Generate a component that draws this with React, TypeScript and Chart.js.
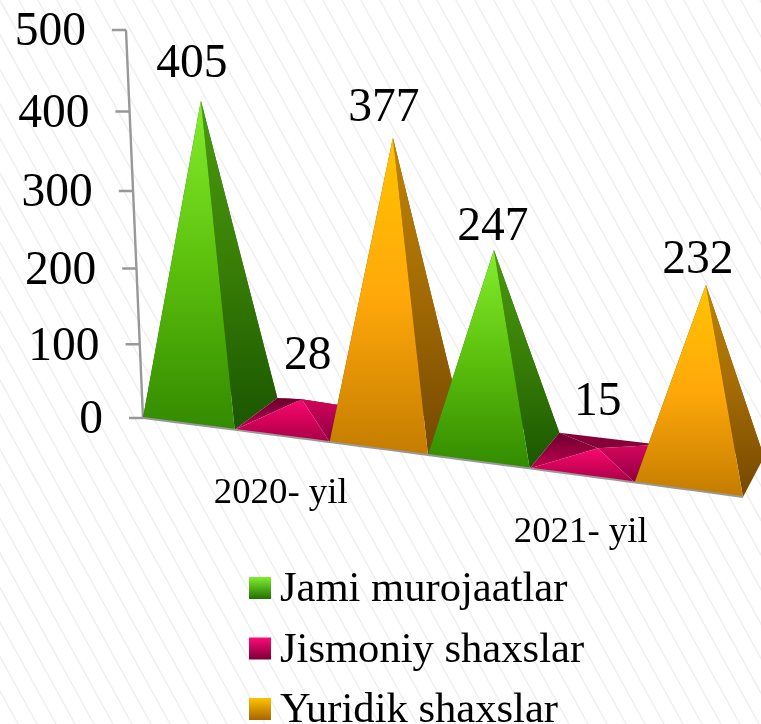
import React, { useEffect, useRef } from "react";
import { Chart, registerables } from "chart.js";

Chart.register(...registerables);

const categories = ["2020- yil", "2021- yil"];
const seriesNames = ["Jami murojaatlar", "Jismoniy shaxslar", "Yuridik shaxslar"];
const jamiMurojaatlar = [405, 247];
const jismoniyShaxslar = [28, 15];
const yuridikShaxslar = [377, 232];
const yTicks = [0, 100, 200, 300, 400, 500];

const SERIF = '"Liberation Serif", "Times New Roman", serif';
const W = 761;
const H = 724;

type Shade = { front: string[]; right: string[]; left: string[]; back: string; swatch: string[] };
const shades: Shade[] = [
  {
    front: ["#84ee2e", "#5cc00c", "#338a00"],
    right: ["#4a9a10", "#387e06", "#1a5600"],
    left: ["#1f6200", "#1f6200"],
    back: "#1f6200",
    swatch: ["#80f030", "#217000"],
  },
  {
    front: ["#f80a70", "#d40259", "#a60046"],
    right: ["#d00658", "#b00050", "#8a003c"],
    left: ["#6c002e", "#c00050"],
    back: "#86003a",
    swatch: ["#ff0a78", "#7a0034"],
  },
  {
    front: ["#ffc400", "#ffa80a", "#c47c00"],
    right: ["#be8406", "#a26a04", "#744800"],
    left: ["#7a4c00", "#7a4c00"],
    back: "#7a4c00",
    swatch: ["#ffc400", "#a86400"],
  },
];

// small per-label nudges for the value text, relative to the apex (series, category)
const labelNudge = [
  [[-10, -37], [-2, -24]],
  [[5, -44], [-1, -47]],
  [[-10, -30], [-9, -25]],
];

const pyramidPlugin = {
  id: "pyramids",
  beforeDraw(chart: any) {
    const ctx = chart.ctx as CanvasRenderingContext2D;
    ctx.save();
    ctx.fillStyle = "#ffffff";
    ctx.fillRect(0, 0, W, H);
    ctx.strokeStyle = "#efefef";
    ctx.lineWidth = 1.5;
    const slope = 0.55;
    ctx.beginPath();
    for (let x = -H * slope - 20; x < W + 20; x += 19) {
      ctx.moveTo(x, 0);
      ctx.lineTo(x + H * slope, H);
    }
    ctx.stroke();
    ctx.restore();
  },
  afterDatasetsDraw(chart: any) {
    const ctx = chart.ctx as CanvasRenderingContext2D;
    const area = chart.chartArea;
    const span = area.right - area.left;
    const height = area.bottom - area.top;
    const frontX = (px: number) => {
      const u = (px - area.left) / span;
      return px - 60 * u * (1 - u);
    };
    const frontY = (px: number) => {
      const u = (px - area.left) / span;
      return area.bottom + 79 * u - 10 * u * (1 - u);
    };
    const depth = (px: number) => {
      const u = (px - area.left) / span;
      return [47 - 26 * u, -(31 + 3 * u + 6 * u * u)];
    };

    // value axis, tilted
    const yScale = chart.scales.y;
    const axisPoint = (v: number) => {
      const py = yScale.getPixelForValue(v);
      const t = (area.bottom - py) / height;
      return [area.left - 17 * t, py + 24 * t * (1 - t)];
    };
    ctx.save();
    ctx.strokeStyle = "#989898";
    ctx.lineWidth = 2.4;
    ctx.beginPath();
    const [ax0, ay0] = axisPoint(yTicks[0]);
    const [ax1, ay1] = axisPoint(yTicks[yTicks.length - 1]);
    ctx.moveTo(ax0, ay0);
    ctx.lineTo(ax1, ay1);
    yScale.ticks.forEach((tick: any) => {
      const [x, y] = axisPoint(tick.value);
      ctx.moveTo(x, y);
      ctx.lineTo(x - 14, y);
    });
    ctx.stroke();
    ctx.fillStyle = "#000";
    ctx.font = `47.5px ${SERIF}`;
    ctx.textAlign = "right";
    ctx.textBaseline = "middle";
    yScale.ticks.forEach((tick: any) => {
      const [x, y] = axisPoint(tick.value);
      ctx.fillText(String(tick.value), x - 40, y + 3);
    });
    ctx.restore();

    // pyramids, left to right
    const items: any[] = [];
    chart.data.datasets.forEach((_: any, s: number) => {
      chart.getDatasetMeta(s).data.forEach((el: any, c: number) => {
        items.push({ el, s, c });
      });
    });
    items.sort((a, b) => a.el.x - b.el.x);

    const grad = (y0: number, y1: number, stops: string[]) => {
      const g = ctx.createLinearGradient(0, y0, 0, y1);
      stops.forEach((col, i) => g.addColorStop(i / (stops.length - 1), col));
      return g;
    };
    const tri = (a: number[], b: number[], c: number[], fill: any) => {
      ctx.beginPath();
      ctx.moveTo(a[0], a[1]);
      ctx.lineTo(b[0], b[1]);
      ctx.lineTo(c[0], c[1]);
      ctx.closePath();
      ctx.fillStyle = fill;
      ctx.fill();
    };

    const apexes: { apex: number[]; s: number; c: number }[] = [];
    items.forEach(({ el, s, c }) => {
      const pl = el.x - el.width / 2;
      const pr = el.x + el.width / 2;
      const u = (el.x - area.left) / span;
      const FL = [frontX(pl), frontY(pl)];
      const FR = [frontX(pr), frontY(pr)];
      const dl = depth(pl);
      const dr = depth(pr);
      const BL = [FL[0] + dl[0], FL[1] + dl[1]];
      const BR = [FR[0] + dr[0], FR[1] + dr[1]];
      const rise = (el.base - el.y) * (0.973 + 0.09 * u);
      const short = rise < 60;
      const apex = [
        frontX(el.x) + (short ? 22 - 8 * u : 12 + 6 * u),
        frontY(el.x) - 15 - rise,
      ];
      apexes.push({ apex, s, c });
      const sh = shades[s];
      tri(BL, BR, apex, sh.back);
      tri(FL, BL, apex, grad(BL[1], FL[1], sh.left));
      tri(FR, BR, apex, grad(apex[1], Math.max(FR[1], BR[1]), sh.right));
      tri(FL, FR, apex, grad(apex[1], FR[1], sh.front));
    });

    // floor edge
    ctx.save();
    ctx.strokeStyle = "#989898";
    ctx.lineWidth = 2;
    ctx.beginPath();
    for (let i = 0; i <= 40; i++) {
      const px = area.left + (span * i) / 40;
      if (i === 0) ctx.moveTo(frontX(px), frontY(px));
      else ctx.lineTo(frontX(px), frontY(px));
    }
    ctx.stroke();
    ctx.restore();

    // value labels
    ctx.save();
    ctx.fillStyle = "#000";
    ctx.font = `47.5px ${SERIF}`;
    ctx.textAlign = "center";
    ctx.textBaseline = "middle";
    apexes.forEach(({ apex, s, c }) => {
      const value = chart.data.datasets[s].data[c];
      const n = labelNudge[s][c];
      ctx.fillText(String(value), apex[0] + n[0] + 1, apex[1] + n[1] + 1);
    });
    ctx.restore();

    // category labels, following the floor edge
    const xScale = chart.scales.x;
    ctx.save();
    ctx.fillStyle = "#000";
    ctx.font = `36.8px ${SERIF}`;
    ctx.textAlign = "center";
    ctx.textBaseline = "middle";
    chart.data.labels.forEach((label: string, i: number) => {
      const px = xScale.getPixelForTick(i);
      ctx.fillText(label, frontX(px) - 1, frontY(px) + 57);
    });
    ctx.restore();

    // legend
    ctx.save();
    ctx.font = `42.6px ${SERIF}`;
    ctx.textAlign = "left";
    ctx.textBaseline = "alphabetic";
    chart.data.datasets.forEach((ds: any, s: number) => {
      const top = 577 + s * 60.5;
      ctx.fillStyle = grad(top, top + 22, shades[s].swatch);
      ctx.fillRect(249, top, 22, 22);
      ctx.fillStyle = "#000";
      ctx.fillText(ds.label, 280, top + 24);
    });
    ctx.restore();
  },
};

export default function App() {
  const ref = useRef<HTMLCanvasElement>(null);
  useEffect(() => {
    const chart = new Chart(ref.current as HTMLCanvasElement, {
      type: "bar",
      data: {
        labels: categories,
        datasets: [jamiMurojaatlar, jismoniyShaxslar, yuridikShaxslar].map((data, i) => ({
          label: seriesNames[i],
          data,
          backgroundColor: "rgba(0,0,0,0)",
          borderWidth: 0,
          categoryPercentage: 1,
          barPercentage: 1,
        })),
      },
      options: {
        animation: false,
        responsive: false,
        devicePixelRatio: 1,
        layout: { padding: { left: 143, right: 18, top: 30, bottom: 306 } },
        plugins: { legend: { display: false }, tooltip: { enabled: false } },
        scales: {
          x: { display: false, grid: { display: false } },
          y: { display: false, min: 0, max: 500, ticks: { stepSize: 100 }, grid: { display: false } },
        },
      },
      plugins: [pyramidPlugin],
    } as any);
    return () => chart.destroy();
  }, []);
  return (
    <div style={{ position: "fixed", left: 0, top: 0, width: W, height: H, overflow: "hidden" }}>
      <canvas ref={ref} width={W} height={H} style={{ display: "block" }} />
    </div>
  );
}
